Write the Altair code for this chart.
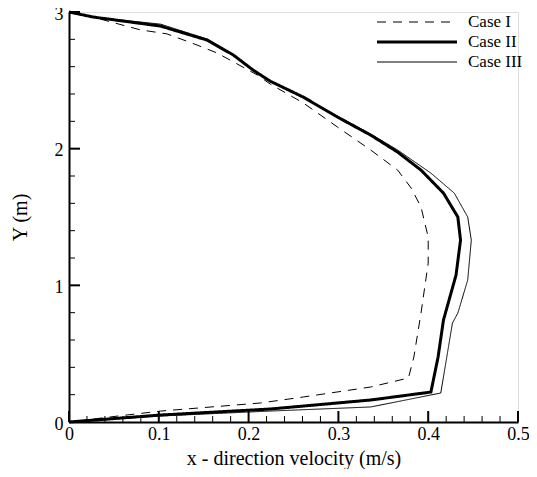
import altair as alt
import pandas as pd

cases = ["Case I", "Case II", "Case III"]

case1_x = [0, 0.031, 0.079, 0.109, 0.138, 0.165, 0.210, 0.224, 0.261, 0.299, 0.336, 0.366,
           0.381, 0.392, 0.400, 0.400, 0.392, 0.384, 0.378, 0.336, 0.261, 0.213, 0.102, 0.046, 0]
case1_y = [3.0, 2.955, 2.87, 2.84, 2.77, 2.70, 2.538, 2.473, 2.334, 2.158, 1.990, 1.843,
           1.712, 1.573, 1.353, 1.163, 0.797, 0.475, 0.322, 0.256, 0.183, 0.139, 0.080, 0.037, 0]

case2_x = [0, 0.027, 0.102, 0.154, 0.183, 0.205, 0.224, 0.261, 0.299, 0.336, 0.366, 0.392,
           0.417, 0.433, 0.436, 0.431, 0.417, 0.411, 0.403, 0.336, 0.224, 0.102, 0]
case2_y = [3.0, 2.963, 2.897, 2.794, 2.685, 2.575, 2.494, 2.377, 2.231, 2.099, 1.975, 1.843,
           1.675, 1.500, 1.331, 1.075, 0.746, 0.475, 0.219, 0.161, 0.095, 0.051, 0]

case3_x = [0, 0.027, 0.102, 0.154, 0.183, 0.205, 0.224, 0.261, 0.299, 0.336, 0.366, 0.403,
           0.429, 0.444, 0.448, 0.444, 0.433, 0.427, 0.422, 0.414, 0.336, 0.224, 0.102, 0]
case3_y = [3.0, 2.963, 2.911, 2.802, 2.685, 2.575, 2.494, 2.377, 2.238, 2.107, 1.990, 1.821,
           1.675, 1.500, 1.331, 1.039, 0.797, 0.724, 0.527, 0.212, 0.110, 0.080, 0.044, 0]

x_major = [0, 0.1, 0.2, 0.3, 0.4, 0.5]
x_minor = [0.02, 0.04, 0.06, 0.08, 0.12, 0.14, 0.16, 0.18, 0.22, 0.24, 0.26, 0.28,
           0.32, 0.34, 0.36, 0.38, 0.42, 0.44, 0.46, 0.48]
y_major = [0, 1, 2, 3]
y_minor = [0.2, 0.4, 0.6, 0.8, 1.2, 1.4, 1.6, 1.8, 2.2, 2.4, 2.6, 2.8]

FONT = "Liberation Serif"
W, H = 449, 410
LBL = 18
TTL = 20
LEG = 17

xscale = alt.Scale(domain=[0, 0.5], nice=False, zero=False)
yscale = alt.Scale(domain=[0, 3], nice=False, zero=False)

x_axis = alt.Axis(values=x_major, format=".1~f", title="x - direction velocity (m/s)",
                  ticks=False, tickSize=0, labelPadding=3, labelFlush=False, grid=False,
                  domainColor="black", domainWidth=2, labelFont=FONT, labelFontSize=LBL,
                  labelColor="black", titleFont=FONT, titleFontSize=TTL, titleFontWeight="normal",
                  titleColor="black", titleBaseline="alphabetic", titleY=42)
y_axis = alt.Axis(values=y_major, format="d", title="Y (m)",
                  ticks=False, tickSize=0, labelPadding=6, labelFlush=False, grid=False,
                  labelOffset=2,
                  domainColor="black", domainWidth=2, labelFont=FONT, labelFontSize=LBL,
                  labelColor="black", titleFont=FONT, titleFontSize=TTL, titleFontWeight="normal",
                  titleColor="black", titleBaseline="alphabetic", titleX=-43, titleY=205,
                  titleAlign="center", titleAngle=270)


def X():
    return alt.X("x:Q", scale=xscale, axis=x_axis)


def Y():
    return alt.Y("y:Q", scale=yscale, axis=y_axis)


styles = {"Case I": ([9, 7], 1), "Case II": ([1, 0], 3), "Case III": ([1, 0], 1)}
series = [("Case I", case1_x, case1_y), ("Case II", case2_x, case2_y), ("Case III", case3_x, case3_y)]

line_layers = []
for name, xs, ys in series:
    d = pd.DataFrame({"x": xs, "y": ys, "order": list(range(len(xs)))})
    dash, sw = styles[name]
    line_layers.append(
        alt.Chart(d).mark_line(color="black", strokeWidth=sw, strokeDash=dash)
        .encode(x=X(), y=Y(), order="order:Q")
    )

xmaj = alt.Chart(pd.DataFrame({"x": x_major})).mark_rule(color="black", strokeWidth=2).encode(
    x=X(), y=alt.value(H), y2=alt.value(H - 11))
xmin = alt.Chart(pd.DataFrame({"x": x_minor})).mark_rule(color="black", strokeWidth=1).encode(
    x=X(), y=alt.value(H), y2=alt.value(H - 6))
ymaj = alt.Chart(pd.DataFrame({"y": y_major})).mark_rule(color="black", strokeWidth=2).encode(
    y=Y(), x=alt.value(0), x2=alt.value(11))
ymin = alt.Chart(pd.DataFrame({"y": y_minor})).mark_rule(color="black", strokeWidth=1).encode(
    y=Y(), x=alt.value(0), x2=alt.value(6))

legend_layers = []
for i, name in enumerate(cases):
    dash, sw = styles[name]
    ypos = 10 + 20 * i
    legend_layers.append(
        alt.Chart(pd.DataFrame({"case": [name]})).mark_rule(color="black", strokeWidth=sw, strokeDash=dash)
        .encode(x=alt.value(308), x2=alt.value(388), y=alt.value(ypos))
    )
    legend_layers.append(
        alt.Chart(pd.DataFrame({"case": [name]})).mark_text(
            align="left", baseline="middle", font=FONT, fontSize=LEG, color="black")
        .encode(x=alt.value(399), y=alt.value(ypos), text="case:N")
    )

chart = alt.layer(*line_layers, xmaj, xmin, ymaj, ymin, *legend_layers).properties(
    width=W, height=H, autosize="none",
    padding={"left": 61, "top": 4, "right": 11, "bottom": 47},
).configure_view(strokeWidth=0).configure(background="white")

chart.save("out.html", embed_options={"renderer": "svg", "actions": False})
